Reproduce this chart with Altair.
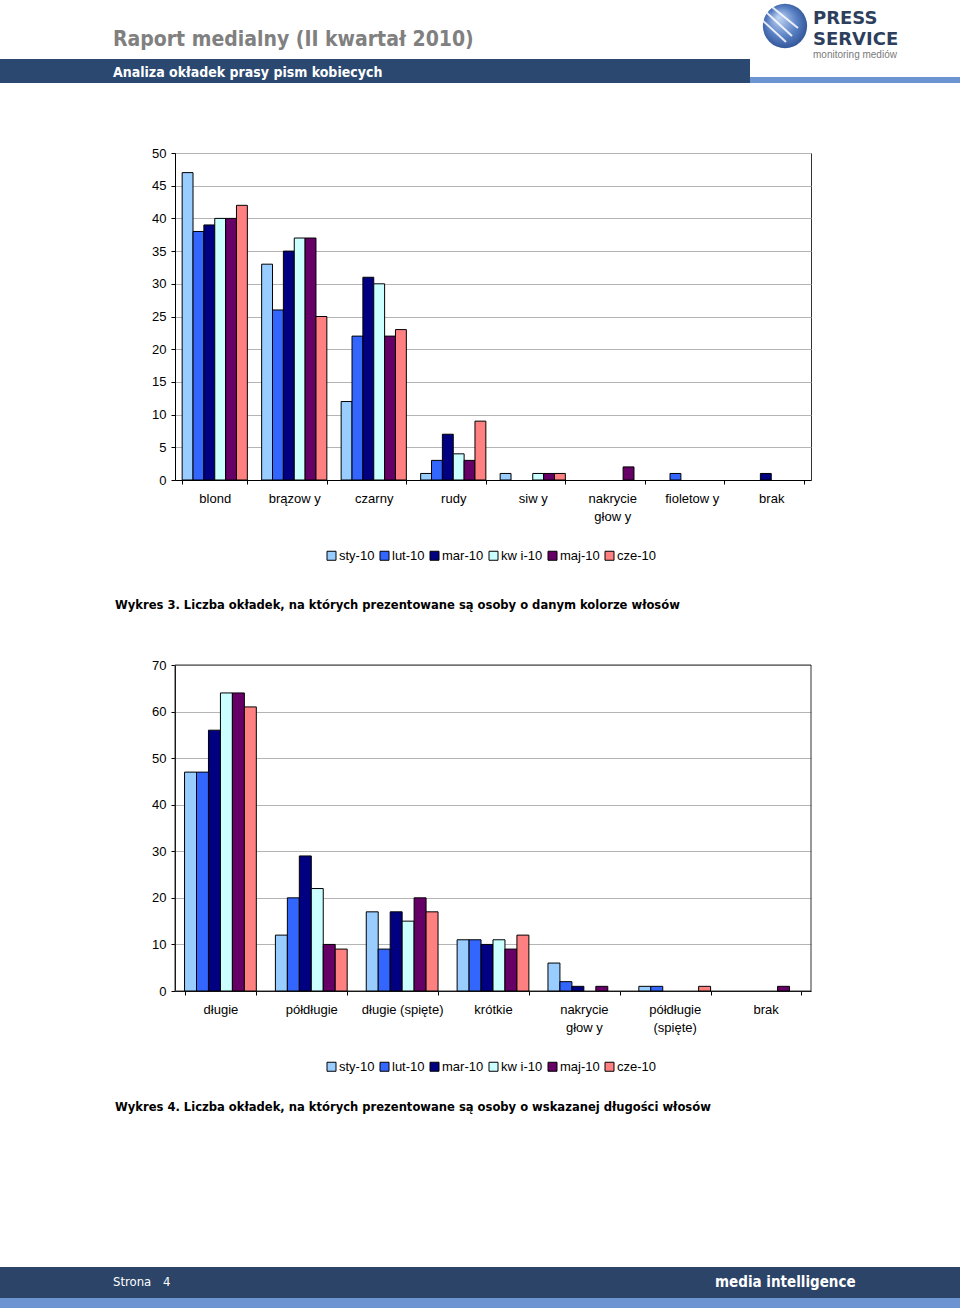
import altair as alt
import pandas as pd

# ---------------- data ----------------
series = ["sty-10", "lut-10", "mar-10", "kw i-10", "maj-10", "cze-10"]
series_colors = ["#99CCFF", "#3366FF", "#000080", "#CCFFFF", "#660066", "#FF8080"]

hair_colour = ["blond", "brązow y", "czarny", "rudy", "siw y", "nakrycie|głow y", "fioletow y", "brak"]
colour_sty = [47, 33, 12, 1, 1, 0, 0, 0]
colour_lut = [38, 26, 22, 3, 0, 0, 1, 0]
colour_mar = [39, 35, 31, 7, 0, 0, 0, 1]
colour_kwi = [40, 37, 30, 4, 1, 0, 0, 0]
colour_maj = [40, 37, 22, 3, 1, 2, 0, 0]
colour_cze = [42, 25, 23, 9, 1, 0, 0, 0]
colour_ticks = [0, 5, 10, 15, 20, 25, 30, 35, 40, 45, 50]

hair_length = ["długie", "półdługie", "długie (spięte)", "krótkie", "nakrycie|głow y", "półdługie|(spięte)", "brak"]
length_sty = [47, 12, 17, 11, 6, 1, 0]
length_lut = [47, 20, 9, 11, 2, 1, 0]
length_mar = [56, 29, 17, 10, 1, 0, 0]
length_kwi = [64, 22, 15, 11, 0, 0, 0]
length_maj = [64, 10, 20, 9, 1, 0, 1]
length_cze = [61, 9, 17, 12, 0, 1, 0]
length_ticks = [0, 10, 20, 30, 40, 50, 60, 70]


def long_table(cats, cols):
    rows = []
    for s, vals in zip(series, cols):
        for c, v in zip(cats, vals):
            rows.append({"kat": c, "seria": s, "v": v})
    return pd.DataFrame(rows)


df1 = long_table(hair_colour, [colour_sty, colour_lut, colour_mar, colour_kwi, colour_maj, colour_cze])
df2 = long_table(hair_length, [length_sty, length_lut, length_mar, length_kwi, length_maj, length_cze])

# ---------------- layout (page pixels) ----------------
OX, OY = 175, 153          # origin of the first plot area on the page
W, H = 636, 327            # plot area size
C2_TOP, C2_BOT = 665 - OY, 991 - OY   # second plot area, relative to origin

AXIS_FONT = "Liberation Sans"
TXT_FONT = "DejaVu Sans Condensed, Liberation Sans, sans-serif"
GRID = "#B4B4B4"

one = pd.DataFrame({"i": [0]})


def box(x1, y1, x2, y2, color):
    return alt.Chart(one).mark_rect(color=color).encode(
        x=alt.value(x1 - OX), x2=alt.value(x2 - OX),
        y=alt.value(y1 - OY), y2=alt.value(y2 - OY))


def label(txt, X, Y, size, weight="normal", color="#000000", font=TXT_FONT):
    return alt.Chart(one).mark_text(
        text=txt, fontSize=size, fontWeight=weight, color=color, font=font,
        align="left", baseline="alphabetic").encode(
        x=alt.value(X - OX), y=alt.value(Y - OY))


def legend(ly):
    return alt.Legend(
        orient="none", legendX=325 - OX, legendY=ly - OY, direction="horizontal",
        title=None, symbolType="square", symbolSize=81, symbolStrokeColor="#000000",
        symbolStrokeWidth=1, labelFont=AXIS_FONT, labelFontSize=13, labelColor="#000000",
        labelOffset=1, columnPadding=3, padding=0)


def x_axis(offset):
    return alt.Axis(
        orient="bottom", offset=offset, title=None, labelAngle=0, tickBand="extent",
        tickSize=4, tickColor="#000000", domainColor="#000000", labelPadding=8,
        labelFont=AXIS_FONT, labelFontSize=13, labelColor="#000000",
        labelExpr="split(datum.label, '|')", labelLineHeight=18, grid=False,
        labelBaseline="top")


def y_axis(values):
    return alt.Axis(
        orient="left", title=None, values=values, grid=True, gridColor=GRID,
        tickSize=4, tickColor="#000000", domainColor="#000000", labelPadding=5,
        labelFont=AXIS_FONT, labelFontSize=13, labelColor="#000000")


bars1 = alt.Chart(df1).mark_bar(stroke="#000000", strokeWidth=1).transform_filter(
    "datum.v > 0").encode(
    x=alt.X("kat:N", sort=hair_colour,
            scale=alt.Scale(domain=hair_colour, paddingInner=0.18, paddingOuter=0.09),
            axis=x_axis(0)),
    xOffset=alt.XOffset("seria:N", sort=series,
                        scale=alt.Scale(domain=series, paddingInner=0, paddingOuter=0)),
    y=alt.Y("v:Q", scale=alt.Scale(domain=[0, 50], nice=False), axis=y_axis(colour_ticks)),
    color=alt.Color("seria:N", sort=series,
                    scale=alt.Scale(domain=series, range=series_colors), legend=legend(549)),
)

bars2 = alt.Chart(df2).mark_bar(stroke="#000000", strokeWidth=1).transform_filter(
    "datum.v > 0").encode(
    x=alt.X("kat:N", sort=hair_length,
            scale=alt.Scale(domain=hair_length, paddingInner=0.21, paddingOuter=0.105),
            axis=x_axis(C2_BOT - H)),
    xOffset=alt.XOffset("seria:N", sort=series,
                        scale=alt.Scale(domain=series, paddingInner=0, paddingOuter=0)),
    y=alt.Y("v:Q", scale=alt.Scale(domain=[0, 70], nice=False, range=[C2_BOT, C2_TOP]),
            axis=y_axis(length_ticks)),
    color=alt.Color("seria:N", sort=series,
                    scale=alt.Scale(domain=series, range=series_colors), legend=legend(1060)),
)

frame2 = alt.Chart(one).mark_rect(fillOpacity=0, stroke="#333333", strokeWidth=1).encode(
    x=alt.value(0), x2=alt.value(W), y=alt.value(C2_TOP), y2=alt.value(C2_BOT))

logo = alt.Chart(one).mark_circle(
    size=1960, opacity=1,
    fill={"gradient": "radial",
          "stops": [{"offset": 0, "color": "#C4D8F4"}, {"offset": 0.55, "color": "#5B82C6"},
                    {"offset": 1, "color": "#24478A"}],
          "x1": 0.35, "y1": 0.3, "r1": 0, "x2": 0.5, "y2": 0.5, "r2": 0.6}).encode(
    x=alt.value(785 - OX), y=alt.value(26 - OY))


def stripe(x1, y1, x2, y2):
    return alt.Chart(one).mark_rule(color="#FFFFFF", strokeWidth=2, opacity=0.85).encode(
        x=alt.value(x1 - OX), y=alt.value(y1 - OY), x2=alt.value(x2 - OX), y2=alt.value(y2 - OY))


layers = [
    box(0, 59, 750, 83, "#2B4970"),
    box(750, 77, 960, 83, "#6D94D2"),
    box(0, 1267, 960, 1298, "#2B4468"),
    box(0, 1298, 960, 1308, "#6D94D2"),
    logo,
    stripe(766, 12, 792, 36), stripe(762, 20, 786, 42), stripe(772, 7, 798, 28),
    frame2,
    bars1,
    bars2,
    label("Raport medialny (II kwartał 2010)", 113, 46, 21, "bold", "#808080"),
    label("Analiza okładek prasy pism kobiecych", 113, 77, 14, "bold", "#FFFFFF"),
    label("PRESS", 813, 24, 18, "bold", "#2E3F5E", "DejaVu Sans"),
    label("SERVICE", 813, 45, 18, "bold", "#2E3F5E", "DejaVu Sans"),
    label("monitoring mediów", 813, 58, 10, "normal", "#7A7A7A", "Liberation Sans"),
    label("Wykres 3. Liczba okładek, na których prezentowane są osoby o danym kolorze włosów",
          115, 609, 12.85, "bold"),
    label("Wykres 4. Liczba okładek, na których prezentowane są osoby o wskazanej długości włosów",
          115, 1111, 12.85, "bold"),
    label("Strona", 113, 1286, 13, "normal", "#FFFFFF"),
    label("4", 163, 1286, 13, "normal", "#FFFFFF"),
    label("media intelligence", 715, 1287, 15, "bold", "#FFFFFF"),
]

chart = alt.layer(*layers).resolve_scale(
    x="independent", y="independent", xOffset="independent", color="independent"
).properties(
    width=W, height=H,
    padding={"left": OX, "top": OY, "right": 960 - OX - W, "bottom": 1314 - OY - H},
    autosize=alt.AutoSizeParams(type="none"),
    background="#FFFFFF",
).configure_view(stroke="#333333", strokeWidth=1)

chart.save("out.html", embed_options={"renderer": "svg", "actions": False})
